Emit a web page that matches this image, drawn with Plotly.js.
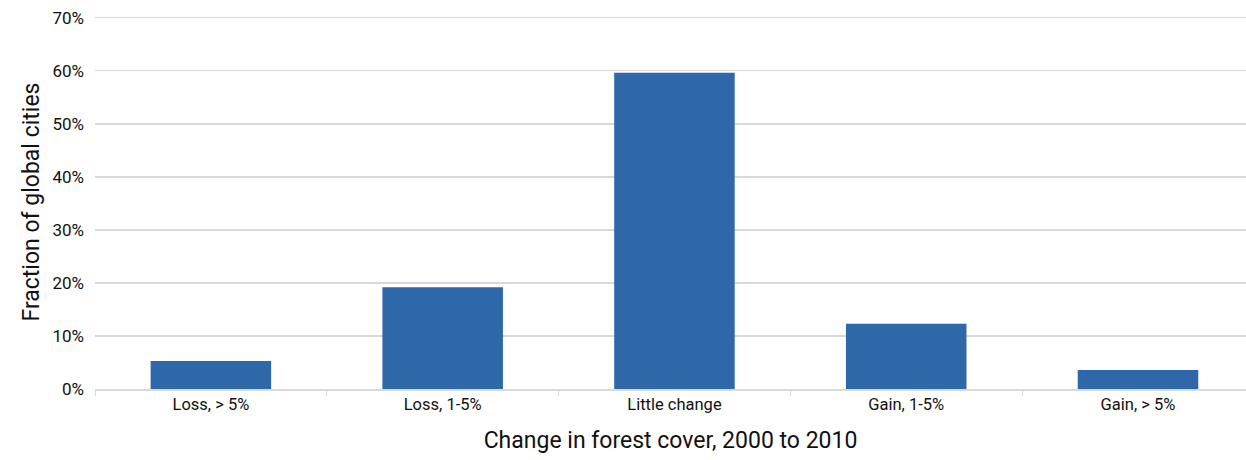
<!DOCTYPE html>
<html>
<head>
<meta charset="utf-8">
<script src="https://cdn.plot.ly/plotly-3.0.1.min.js"></script>
<style>html,body{margin:0;padding:0;background:#fff;}#chart{width:1246px;height:460px;}</style>
</head>
<body>
<div id="chart"></div>
<script>
var categories = ["Loss, > 5%", "Loss, 1-5%", "Little change", "Gain, 1-5%", "Gain, > 5%"];
var fractionPct = [5.3, 19.2, 59.6, 12.3, 3.6];
var yTickVals = [0, 10, 20, 30, 40, 50, 60, 70];

var FONT = 'Roboto, "Liberation Sans", sans-serif';

var trace = {
  type: 'bar',
  x: categories,
  y: fractionPct,
  width: 0.52,
  marker: {color: '#2e68a8'},
  hoverinfo: 'x+y'
};

var layout = {
  width: 1246,
  height: 460,
  margin: {l: 95, r: 0, t: 15, b: 71},
  paper_bgcolor: '#ffffff',
  plot_bgcolor: '#ffffff',
  showlegend: false,
  font: {family: FONT, color: '#111111', size: 17},
  xaxis: {
    type: 'category',
    range: [-0.5, 4.466],
    showline: true,
    linecolor: '#d9d9d9',
    linewidth: 1.5,
    ticks: 'outside',
    tickson: 'boundaries',
    ticklen: 5,
    tickcolor: '#d9d9d9',
    tickfont: {family: FONT, size: 16.5, color: '#111111'},
    showgrid: false,
    zeroline: false,
    fixedrange: true,
    title: {text: 'Change in forest cover, 2000 to 2010', font: {family: FONT, size: 23, color: '#111111'}, standoff: 18}
  },
  yaxis: {
    range: [0, 70.5],
    tickvals: yTickVals,
    ticktext: yTickVals.map(function(v){return v + '%';}),
    showgrid: true,
    gridcolor: '#d9d9d9',
    gridwidth: 1.5,
    zeroline: false,
    showline: false,
    ticks: '',
    ticklabelstandoff: 10,
    tickfont: {family: FONT, size: 17, color: '#111111'},
    fixedrange: true,
    title: {text: 'Fraction of global cities', font: {family: FONT, size: 23, color: '#111111'}}
  }
};

Plotly.newPlot('chart', [trace], layout, {displayModeBar: false, staticPlot: true});
</script>
</body>
</html>
